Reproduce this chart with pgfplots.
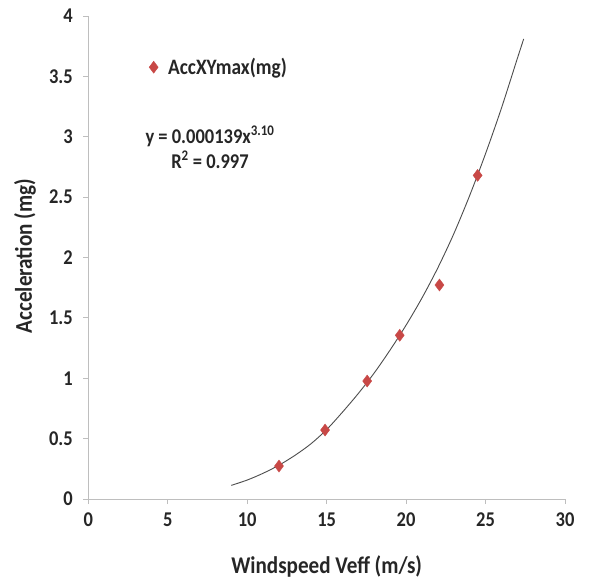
\documentclass[border=0pt]{standalone}
\usepackage{fontspec}
\setmainfont{Carlito}[FakeStretch=0.88]
\usepackage{pgfplots}
\pgfplotsset{compat=1.18}

\definecolor{mkred}{RGB}{200,72,70}
\definecolor{axgray}{RGB}{190,190,190}

\begin{document}
\begin{tikzpicture}
\begin{axis}[
  scale only axis,
  width=476.7bp, height=483bp,
  xmin=0, xmax=30, ymin=0, ymax=4,
  xtick={0,5,...,30},
  ytick={0,0.5,...,4},
  axis lines=left,
  axis line style={axgray, line width=0.8bp, -},
  tick style={axgray, line width=0.8bp},
  tick align=outside,
  major tick length=5bp,
  /pgf/number format/assume math mode=true,
  tick label style={font=\fontsize{21bp}{24bp}\selectfont\bfseries, text=black!85},
  xticklabel style={yshift=-5bp},
  yticklabel style={xshift=-7bp},
  xlabel={Windspeed Veff (m/s)},
  ylabel={Acceleration (mg)},
  label style={font=\fontsize{24bp}{28bp}\selectfont\bfseries, text=black!85},
  xlabel style={at={(axis description cs:0.5,-0.139)}, anchor=center},
  ylabel style={at={(axis description cs:-0.133,0.503)}, anchor=center, rotate=0},
  legend style={draw=none, fill=none, at={(axis description cs:0.121,0.894)}, anchor=west,
    font=\fontsize{22bp}{24bp}\selectfont\bfseries, text=black!85,
    /tikz/every odd column/.append style={column sep=8bp}},
  legend cell align=left,
  clip=false,
]
\addplot[only marks, mark=diamond*, mark size=6bp, mkred, mark options={draw=mkred, fill=mkred}]
  coordinates {(12.0,0.273) (14.9,0.571) (17.55,0.977) (19.6,1.356) (22.1,1.772) (24.5,2.68)};
\addlegendentry{AccXYmax(mg)}
\addplot[smooth, black!70, line width=0.9bp, forget plot]
  coordinates {(9,0.113) (10,0.157) (11,0.213) (12,0.28) (13,0.361) (14,0.456) (15,0.575)
    (16,0.72) (17,0.875) (18,1.045) (19,1.235) (20,1.44) (21,1.665) (22,1.915) (23,2.196)
    (24,2.513) (25,2.86) (26,3.237) (27,3.648) (27.4,3.81)};
\node[align=center, font=\fontsize{21bp}{25bp}\selectfont\bfseries, text=black!85]
  at (axis cs:7.66,2.915) {y = 0.000139x\textsuperscript{3.10}\\R\textsuperscript{2} = 0.997};
\end{axis}
\pgfresetboundingbox
\path ([shift={(-88.3bp,-84bp)}]current axis.south west) rectangle ([shift={(26bp,16bp)}]current axis.north east);
\end{tikzpicture}
\end{document}
